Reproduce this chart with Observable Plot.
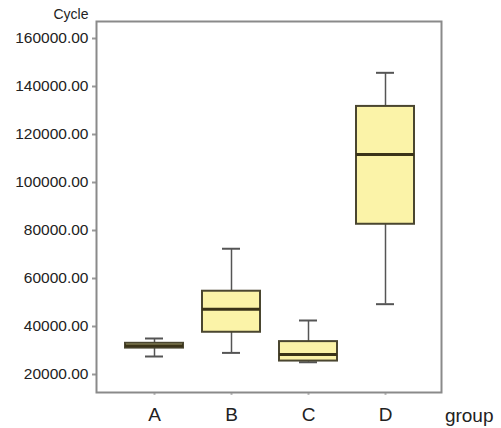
<!DOCTYPE html>
<html>
<head>
<meta charset="utf-8">
<script src="https://cdn.jsdelivr.net/npm/d3@7"></script>
<script src="https://cdn.jsdelivr.net/npm/@observablehq/plot@0.6"></script>
<style>
  html, body { margin: 0; padding: 0; background: #fff; }
  svg { display: block; }
</style>
</head>
<body>
<div id="chart"></div>
<script>
const groups  = ["A", "B", "C", "D"];
const mins    = [27500, 29000, 25100, 49300];
const q1s     = [31000, 37600, 25600, 82600];
const medians = [32000, 47200, 28300, 111700];
const q3s     = [33000, 54700, 33700, 131700];
const maxs    = [35000, 72400, 42500, 145700];
const yTicks  = [20000, 40000, 60000, 80000, 100000, 120000, 140000, 160000];

const data = groups.map((g, i) => ({
  group: g, min: mins[i], q1: q1s[i], median: medians[i], q3: q3s[i], max: maxs[i]
}));

const boxStroke = "#4a4630";
const font = "'Liberation Sans', Arial, sans-serif";

const chart = Plot.plot({
  width: 501,
  height: 428,
  marginLeft: 96,
  marginRight: 60,
  marginTop: 21,
  marginBottom: 36,
  style: { fontFamily: font, background: "#fff", color: "#222" },
  x: {
    type: "band",
    domain: groups,
    range: [114.5, 423.5],
    paddingInner: 0.25,
    paddingOuter: 0.125,
    label: null
  },
  y: {
    domain: [12500, 167083],
    label: null
  },
  marks: [
    Plot.axisY({
      ticks: yTicks,
      tickFormat: d => d.toFixed(2),
      tickSize: 4,
      tickPadding: 4,
      stroke: "#999",
      strokeWidth: 2,
      fontSize: 15.5,
      fill: "#222",
      label: null
    }),
    Plot.axisX({
      tickSize: 3,
      tickPadding: 12,
      stroke: "#bbb",
      strokeWidth: 2,
      fontSize: 19,
      fill: "#222",
      label: null
    }),
    Plot.frame({ stroke: "#8a8a8a", strokeWidth: 2 }),
    // whiskers
    Plot.ruleX(data, { x: "group", y1: "min", y2: "q1", stroke: "#555", strokeWidth: 1.5 }),
    Plot.ruleX(data, { x: "group", y1: "q3", y2: "max", stroke: "#555", strokeWidth: 1.5 }),
    Plot.tickY(data, { x: "group", y: "min", stroke: "#555", strokeWidth: 2, insetLeft: 20, insetRight: 20 }),
    Plot.tickY(data, { x: "group", y: "max", stroke: "#555", strokeWidth: 2, insetLeft: 20, insetRight: 20 }),
    // boxes
    Plot.barY(data, { x: "group", y1: "q1", y2: "q3", fill: "#fbf3a8", stroke: boxStroke, strokeWidth: 2 }),
    Plot.tickY(data, { x: "group", y: "median", stroke: "#3a3318", strokeWidth: 3 }),
    // axis titles
    Plot.text(["Cycle"], {
      frameAnchor: "top-left", dx: -8, dy: -7, textAnchor: "end", lineAnchor: "middle",
      fontSize: 14, fill: "#222"
    }),
    Plot.text(["group"], {
      frameAnchor: "bottom-right", dx: 52, dy: 23, textAnchor: "end", lineAnchor: "middle",
      fontSize: 19, fill: "#222", style: "letter-spacing: 1.5px"
    })
  ]
});

document.getElementById("chart").appendChild(chart);
</script>
</body>
</html>
